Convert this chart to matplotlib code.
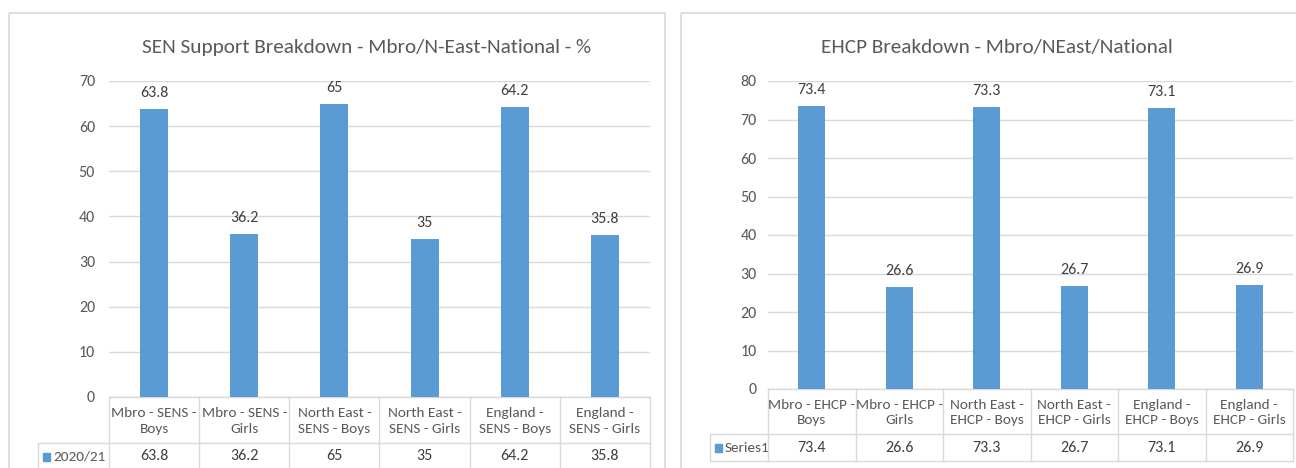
import matplotlib
matplotlib.use('Agg')
import matplotlib.pyplot as plt
from matplotlib.patches import Rectangle
from matplotlib.transforms import blended_transform_factory

# chart data
sen_title = 'SEN Support Breakdown - Mbro/N-East-National - %'
sen_labels = ['Mbro - SENS -\nBoys', 'Mbro - SENS -\nGirls', 'North East -\nSENS - Boys',
              'North East -\nSENS - Girls', 'England -\nSENS - Boys', 'England -\nSENS - Girls']
sen_values = [63.8, 36.2, 65, 35, 64.2, 35.8]
sen_series = '2020/21'

ehcp_title = 'EHCP Breakdown - Mbro/NEast/National'
ehcp_labels = ['Mbro - EHCP -\nBoys', 'Mbro - EHCP -\nGirls', 'North East -\nEHCP - Boys',
               'North East -\nEHCP - Girls', 'England -\nEHCP - Boys', 'England -\nEHCP - Girls']
ehcp_values = [73.4, 26.6, 73.3, 26.7, 73.1, 26.9]
ehcp_series = 'Series1'

W, H = 1296, 468
BLUE = '#5B9BD5'
GRID = '#D9D9D9'
TXT = '#595959'

plt.rcParams['font.family'] = ['Carlito', 'DejaVu Sans']

fig = plt.figure(figsize=(W / 100, H / 100), dpi=100)
fig.patch.set_facecolor('white')

# background axes in pixel coordinates for borders and the data table
bg = fig.add_axes([0, 0, 1, 1], zorder=0)
bg.set_xlim(0, W)
bg.set_ylim(H, 0)
bg.axis('off')


def chart(box, plot, rows, legend_x, title, title_x, labels, values, series,
          ymax, ypad):
    '''
    Draws one Excel style column chart with a data table below it
    box: (x0, y0, x1, y1) border, plot: (x0, top, x1, bottom) in pixels
    rows: (category row bottom, value row bottom)
    '''
    bx0, by0, bx1, by1 = box
    bg.add_patch(Rectangle((bx0, by0), bx1 - bx0, by1 - by0, fill=False,
                           edgecolor=GRID, lw=1.2))
    px0, ptop, px1, pbot = plot
    bg.text(title_x, 47, title, ha='center', va='center',
            fontsize=15.3, color=TXT)

    ax = fig.add_axes([px0 / W, 1 - pbot / H, (px1 - px0) / W, (pbot - ptop) / H],
                      zorder=1)
    ax.patch.set_alpha(0)
    x = range(len(values))
    bars = ax.bar(x, values, width=0.31, color=BLUE, zorder=2)
    ax.bar_label(bars, labels=[f'{v:g}' for v in values], padding=6.5,
                 fontsize=11.5, color='#404040')
    ax.set_xlim(-0.5, len(values) - 0.5)
    ax.set_ylim(0, ymax)
    ax.set_yticks(range(0, ymax + 1, 10))
    ax.set_xticks([])
    ax.tick_params(axis='y', length=0, labelsize=11.5, labelcolor=TXT, pad=ypad)
    for s in ax.spines.values():
        s.set_visible(False)
    ax.yaxis.grid(True, color=GRID, lw=1)
    ax.set_axisbelow(True)

    # data table
    r1, r2 = rows
    tr = blended_transform_factory(ax.transData, bg.transData)
    for i in range(len(values) + 1):
        bg.plot([i - 0.5, i - 0.5], [pbot, r2], color=GRID, lw=1,
                transform=tr, clip_on=False)
    bg.plot([px0, px1], [pbot, pbot], color=GRID, lw=1)
    bg.plot([legend_x, px1], [r1, r1], color=GRID, lw=1)
    bg.plot([legend_x, px1], [r2, r2], color=GRID, lw=1)
    bg.plot([legend_x, legend_x], [r1, r2], color=GRID, lw=1)
    for i, (lab, v) in enumerate(zip(labels, values)):
        bg.text(i, (pbot + r1) / 2 + 1, lab, ha='center', va='center',
                fontsize=11, color=TXT, linespacing=1.35, transform=tr)
        bg.text(i, (r1 + r2) / 2, f'{v:g}', ha='center', va='center',
                fontsize=11.5, color='#404040', transform=tr)
    # legend key in the table
    ym = (r1 + r2) / 2
    bg.add_patch(Rectangle((legend_x + 5, ym - 4), 7, 8, color=BLUE))
    bg.text(legend_x + 15, ym, series, ha='left', va='center',
            fontsize=11, color=TXT)


chart((9, 13, 665, 490), (109, 81, 650, 397), (443, 470), 38,
      sen_title, 367, sen_labels, sen_values, sen_series, 70, 10)
chart((681, 13, 1310, 490), (768, 81, 1293, 389), (434, 461), 710,
      ehcp_title, 997, ehcp_labels, ehcp_values, ehcp_series, 80, 8)

plt.savefig('out.png', dpi=100)
